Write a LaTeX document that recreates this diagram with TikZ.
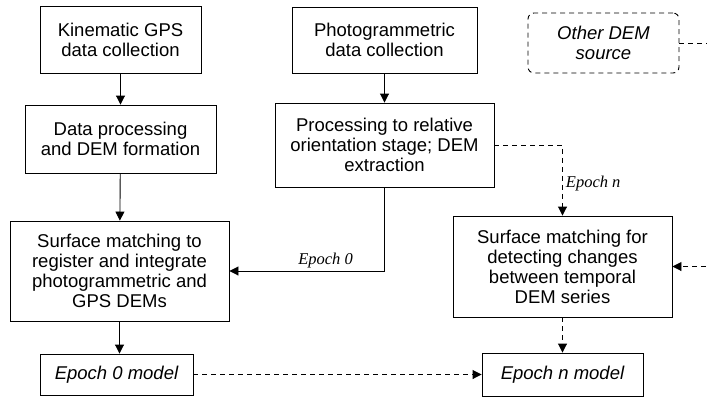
\documentclass[tikz,border=0pt]{standalone}
\usepackage{fontspec}
\setmainfont{Liberation Serif}
\setsansfont{Liberation Sans}
\usetikzlibrary{arrows.meta}
\usetikzlibrary{positioning}
\tikzset {
  flow path/.style = {
    draw = black,
    line width = 0.9pt
  },
  % solid connector
  arr/.style = {
    flow path,
    -{Triangle[length=9pt,width=9pt]}
  },
  % dashed connector
  darr/.style = {
    arr,
    dash pattern = on 5pt off 4pt
  },
  % plain dashed line
  dline/.style = {
    flow path,
    dash pattern = on 5pt off 4pt
  }
}
\tikzset {
  flow node/.style = {
    draw = black,
    line width = 0.9pt,
    inner sep = 0pt,
    align = center,
    font = \sffamily\fontsize{18.5}{20}\selectfont
  },
  % processing step
  proc/.style = {
    flow node,
    rectangle
  },
  % resulting model
  model/.style = {
    proc,
    font = \sffamily\itshape\fontsize{18.5}{20}\selectfont
  },
  % external source
  source/.style = {
    model,
    rounded corners = 6pt,
    dash pattern = on 5pt off 4pt
  },
  % label on a connector
  epoch/.style = {
    font = \itshape\fontsize{16.5}{18}\selectfont,
    inner sep = 3pt
  }
}
\begin{document}
\begin{tikzpicture}[x=1pt,y=-1pt]
    \useasboundingbox (0,0) rectangle (707,397);
    \node[proc, minimum width=161pt, minimum height=67pt] (kin) at (120.5,39.5)
      {Kinematic GPS\\data collection};
    \node[proc, minimum width=191pt, minimum height=68pt] (dproc) at (120.5,139)
      {Data processing\\and DEM formation};
    \node[proc, minimum width=219pt, minimum height=100pt] (reg) at (119.5,271)
      {Surface matching to\\register and integrate\\photogrammetric and\\GPS DEMs};
    \node[model, minimum width=153pt, minimum height=41pt] (ep0) at (116.5,374.5)
      {Epoch 0 model};
    \node[proc, minimum width=185pt, minimum height=66pt] (photo) at (384.5,40)
      {Photogrammetric\\data collection};
    \node[proc, minimum width=219pt, minimum height=84pt] (rel) at (384.5,145)
      {Processing to relative\\orientation stage; DEM\\extraction};
    \node[source, minimum width=151pt, minimum height=60pt] (other) at (603.5,43)
      {Other DEM\\source};
    \node[proc, minimum width=219pt, minimum height=101pt] (detect) at (562.5,266.5)
      {Surface matching for\\detecting changes\\between temporal\\DEM series};
    \node[model, minimum width=161pt, minimum height=43pt] (epn) at (562.5,374.5)
      {Epoch n model};
    \coordinate (other-bend) at (725,43);

    \draw[arr] (kin) -- (dproc);
    \draw[arr] (dproc) -- (reg);
    \draw[arr] (reg.south) -- (reg.south |- ep0.north);
    \draw[arr] (photo) -- (rel);

    \draw[arr] (rel.south)
    |- node[epoch, pos=0.69, above] {Epoch 0} (reg.east);

    \draw[darr] (rel.east)
    -| node[epoch, pos=0.77, right] {Epoch n} (detect.north);

    \draw[darr] (other.east)
    -- (other-bend)
    |- (detect.east);

    \draw[darr] (detect) -- (epn);
    \draw[darr] (ep0) -- (epn);
  \end{tikzpicture}
\end{document}
